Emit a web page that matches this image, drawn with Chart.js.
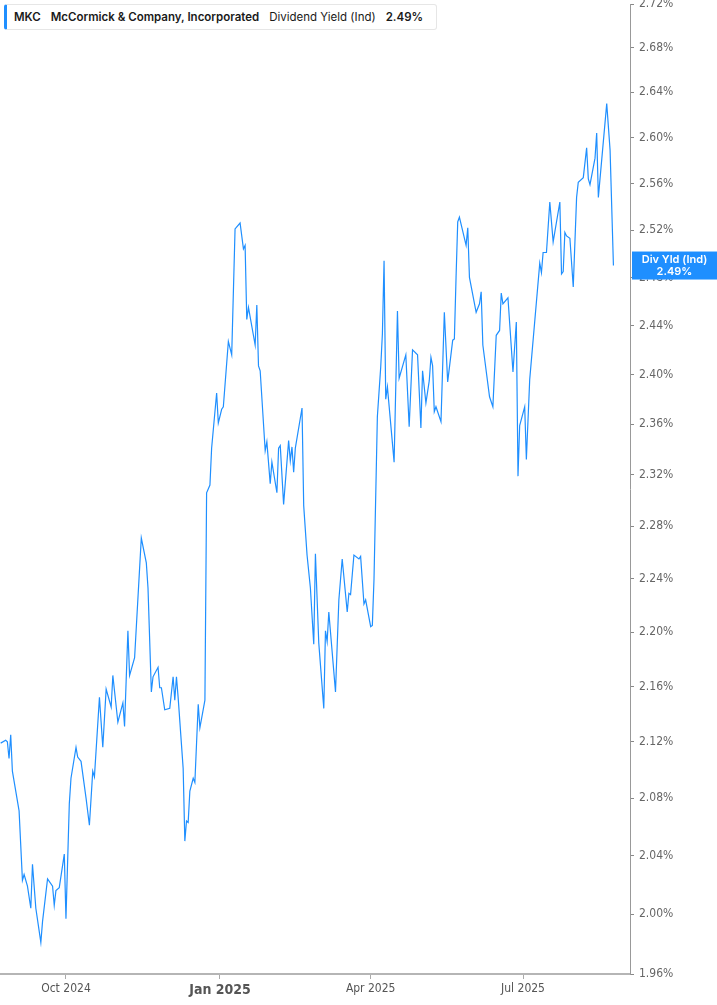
<!DOCTYPE html>
<html><head><meta charset="utf-8">
<script src="https://cdn.jsdelivr.net/npm/chart.js@4.4.1/dist/chart.umd.min.js"></script>
<style>
html,body{margin:0;padding:0;background:#fff;}
#wrap{position:relative;width:717px;height:1005px;overflow:hidden;}
#legend{position:absolute;left:4px;top:4px;height:26px;width:433px;box-sizing:border-box;border:1px solid #e6e6e6;border-left:3px solid #1f8fff;border-radius:3px;background:#fff;font-family:Inter,"Noto Sans",sans-serif;font-size:11.5px;color:#1a1a1a;line-height:24px;padding-left:7px;white-space:nowrap;}
#legend span{margin-right:10px;}
#legend .b{font-weight:600;}
</style></head>
<body><div id="wrap"><canvas id="c" width="717" height="1005"></canvas>
<div id="legend"><span class="b">MKC</span><span class="b">McCormick &amp; Company, Incorporated</span><span>Dividend Yield (Ind)</span><span class="b" id="lv"></span></div></div>
<script>
const ticker = 'MKC';
const seriesName = 'Dividend Yield (Ind)';
const dates = [
'2024-08-23','2024-08-26','2024-08-27','2024-08-28','2024-08-29','2024-08-30','2024-09-03','2024-09-05','2024-09-06','2024-09-08',
'2024-09-10','2024-09-11','2024-09-13','2024-09-16','2024-09-17','2024-09-20','2024-09-23','2024-09-24','2024-09-25','2024-09-27',
'2024-09-30','2024-10-01','2024-10-03','2024-10-04','2024-10-07','2024-10-08','2024-10-10','2024-10-13','2024-10-15','2024-10-17',
'2024-10-18','2024-10-21','2024-10-23','2024-10-25','2024-10-28','2024-10-29','2024-11-01','2024-11-04','2024-11-05','2024-11-07',
'2024-11-08','2024-11-11','2024-11-15','2024-11-18','2024-11-19','2024-11-21','2024-11-22','2024-11-25','2024-11-26','2024-11-27',
'2024-11-29','2024-12-02','2024-12-04','2024-12-05','2024-12-06','2024-12-07','2024-12-10','2024-12-11','2024-12-12','2024-12-13',
'2024-12-14','2024-12-16','2024-12-17','2024-12-19','2024-12-20','2024-12-23','2024-12-24','2024-12-26','2024-12-27','2024-12-30',
'2024-12-31','2025-01-02','2025-01-03','2025-01-06','2025-01-08','2025-01-10','2025-01-13','2025-01-15','2025-01-16','2025-01-17',
'2025-01-18','2025-01-22','2025-01-23','2025-01-24','2025-01-25','2025-01-28','2025-01-29','2025-01-31','2025-02-01','2025-02-04',
'2025-02-05','2025-02-06','2025-02-08','2025-02-11','2025-02-12','2025-02-13','2025-02-14','2025-02-15','2025-02-19','2025-02-20',
'2025-02-22','2025-02-24','2025-02-26','2025-02-27','2025-03-01','2025-03-04','2025-03-05','2025-03-06','2025-03-07','2025-03-11',
'2025-03-13','2025-03-15','2025-03-18','2025-03-19','2025-03-20','2025-03-22','2025-03-25','2025-03-26','2025-03-28','2025-03-29',
'2025-04-01','2025-04-02','2025-04-03','2025-04-05','2025-04-07','2025-04-08','2025-04-09','2025-04-10','2025-04-11','2025-04-15',
'2025-04-17','2025-04-18','2025-04-22','2025-04-24','2025-04-26','2025-04-29','2025-05-01','2025-05-02','2025-05-04','2025-05-06',
'2025-05-07','2025-05-08','2025-05-09','2025-05-10','2025-05-13','2025-05-15','2025-05-17','2025-05-20','2025-05-21','2025-05-22',
'2025-05-23','2025-05-24','2025-05-28','2025-05-29','2025-05-30','2025-06-03','2025-06-05','2025-06-06','2025-06-07','2025-06-11',
'2025-06-13','2025-06-15','2025-06-17','2025-06-18','2025-06-19','2025-06-22','2025-06-25','2025-06-27','2025-06-28','2025-06-29',
'2025-07-02','2025-07-03','2025-07-05','2025-07-11','2025-07-12','2025-07-13','2025-07-15','2025-07-17','2025-07-19','2025-07-23',
'2025-07-24','2025-07-25','2025-07-26','2025-07-27','2025-07-29','2025-07-31','2025-08-02','2025-08-03','2025-08-06','2025-08-08',
'2025-08-09','2025-08-10','2025-08-13','2025-08-14','2025-08-15','2025-08-20','2025-08-22','2025-08-24'
];
const yieldPct = [
2.119,2.121,2.120,2.108,2.125,2.099,2.071,2.023,2.027,2.019,
2.004,2.034,2.004,1.981,1.995,2.024,2.019,2.006,2.016,2.018,
2.041,1.997,2.076,2.094,2.116,2.109,2.106,2.080,2.061,2.099,
2.095,2.152,2.116,2.158,2.145,2.168,2.134,2.148,2.131,2.201,
2.168,2.181,2.271,2.252,2.233,2.156,2.167,2.174,2.159,2.159,
2.143,2.144,2.167,2.150,2.167,2.152,2.101,2.050,2.064,2.063,
2.085,2.094,2.091,2.147,2.130,2.150,2.306,2.312,2.341,2.385,
2.361,2.372,2.374,2.427,2.416,2.521,2.526,2.504,2.507,2.445,
2.455,2.424,2.457,2.407,2.403,2.339,2.346,2.313,2.330,2.306,
2.341,2.343,2.297,2.347,2.331,2.342,2.322,2.341,2.373,2.296,
2.258,2.233,2.191,2.259,2.192,2.144,2.201,2.193,2.215,2.156,
2.224,2.255,2.215,2.229,2.228,2.258,2.255,2.257,2.221,2.224,
2.204,2.205,2.240,2.366,2.406,2.433,2.494,2.380,2.390,2.330,
2.452,2.397,2.416,2.358,2.420,2.416,2.357,2.403,2.377,2.395,
2.414,2.407,2.370,2.374,2.362,2.451,2.394,2.428,2.429,2.480,
2.527,2.531,2.507,2.522,2.480,2.451,2.458,2.468,2.424,2.382,
2.374,2.432,2.436,2.467,2.458,2.463,2.402,2.443,2.319,2.359,
2.374,2.332,2.396,2.492,2.484,2.501,2.501,2.544,2.510,2.544,
2.483,2.485,2.518,2.515,2.513,2.472,2.548,2.561,2.565,2.591,
2.564,2.559,2.582,2.604,2.548,2.630,2.589,2.490
];
const xTickDates = ['2024-10-01','2025-01-01','2025-04-01','2025-07-01'];
const xTickLabels = ['Oct 2024','Jan 2025','Apr 2025','Jul 2025'];
const yTickValues = [1.96,2.00,2.04,2.08,2.12,2.16,2.20,2.24,2.28,2.32,2.36,2.40,2.44,2.48,2.52,2.56,2.60,2.64,2.68,2.72];

const DAY = 86400000;
const t = s => Date.parse(s + 'T00:00:00Z');
const lastVal = yieldPct[yieldPct.length - 1];
document.getElementById('lv').textContent = lastVal.toFixed(2) + '%';
const BLUE = '#1f8fff';
const xTickTimes = xTickDates.map(t);
const NARROW = '"Liberation Sans Narrow", "DejaVu Sans Condensed", Roboto, sans-serif';

const endLabel = {
  id: 'endLabel',
  afterDraw(chart) {
    const {ctx, chartArea, scales} = chart;
    const py = scales.y.getPixelForValue(lastVal);
    const x0 = chartArea.right + 2, w = chart.width - x0, h = 28;
    ctx.save();
    ctx.fillStyle = BLUE;
    ctx.fillRect(x0, py - h / 2, w, h);
    ctx.fillStyle = '#fff';
    ctx.font = '600 11px Inter, "Noto Sans", sans-serif';
    ctx.textAlign = 'center';
    ctx.textBaseline = 'middle';
    ctx.fillText('Div Yld (Ind)', x0 + w / 2, py - 6);
    ctx.fillText(lastVal.toFixed(2) + '%', x0 + w / 2, py + 6);
    ctx.restore();
  }
};

new Chart(document.getElementById('c'), {
  type: 'line',
  data: {
    datasets: [{
      label: seriesName,
      data: dates.map((d, i) => ({x: t(d), y: yieldPct[i]})),
      borderColor: BLUE,
      borderWidth: 1.2,
      pointRadius: 0,
      tension: 0,
      fill: false
    }]
  },
  options: {
    responsive: false,
    animation: false,
    layout: {padding: {top: 4, left: 0, right: 0, bottom: 0}},
    plugins: {legend: {display: false}, tooltip: {enabled: false}},
    scales: {
      x: {
        type: 'linear',
        min: t('2024-10-01') - 39.4 * DAY,
        max: t('2024-10-01') + 336.9 * DAY,
        afterBuildTicks: s => { s.ticks = xTickTimes.map(v => ({value: v})); },
        afterFit: s => { s.height = 31; s.paddingLeft = 0; s.paddingRight = 0; },
        ticks: {
          autoSkip: false, maxRotation: 0, padding: 3, color: '#555',
          callback: v => { const i = xTickTimes.indexOf(v); return i >= 0 ? xTickLabels[i] : ''; },
          font: ctx => (ctx.tick && ctx.tick.value === t('2025-01-01'))
            ? {family: NARROW, size: 14, weight: 'bold'}
            : {family: NARROW, size: 12}
        },
        grid: {drawOnChartArea: false, drawTicks: true, tickLength: 5, color: '#aaa'},
        border: {color: '#b5b5b5', width: 2}
      },
      y: {
        type: 'logarithmic',
        position: 'right',
        min: 1.96,
        max: 2.72,
        afterBuildTicks: s => { s.ticks = yTickValues.map(v => ({value: v})); },
        afterFit: s => { s.width = 87; s.paddingTop = 0; s.paddingBottom = 0; },
        ticks: {
          autoSkip: false, padding: 5, color: '#666',
          font: {family: NARROW, size: 12},
          callback: v => Number(v).toFixed(2) + '%'
        },
        grid: {drawOnChartArea: false, drawTicks: true, tickLength: 4, color: '#888'},
        border: {color: '#999', width: 1}
      }
    }
  },
  plugins: [endLabel]
});
</script></body></html>
